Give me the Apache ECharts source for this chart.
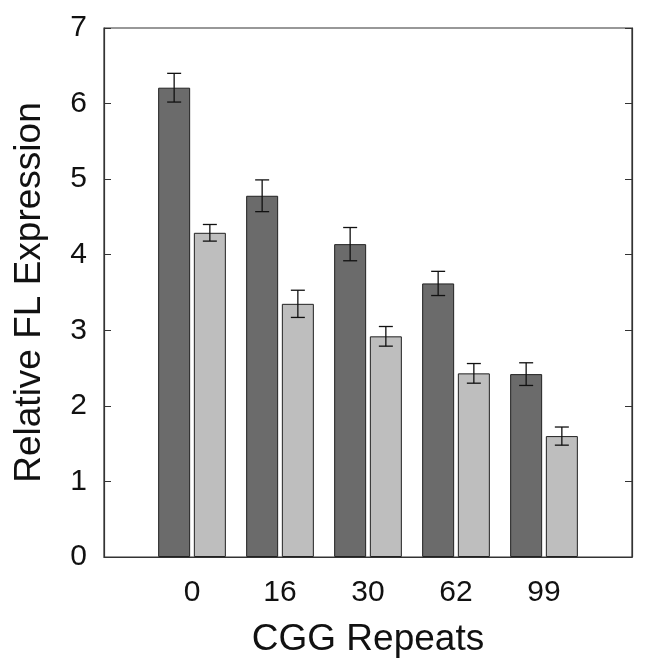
<!DOCTYPE html>
<html><head><meta charset="utf-8">
<script src="https://cdn.jsdelivr.net/npm/echarts@6/dist/echarts.min.js"></script>
<style>html,body{margin:0;padding:0;background:#fff}#c{width:649px;height:672px}</style>
</head><body><div id="c"></div>
<script>
const categories = ['', '0', '16', '30', '62', '99', ''];
const darkValues = [null, 6.21, 4.78, 4.14, 3.62, 2.42, null];
const darkErr = [null, 0.19, 0.21, 0.22, 0.16, 0.15, null];
const lightValues = [null, 4.29, 3.35, 2.92, 2.43, 1.60, null];
const lightErr = [null, 0.11, 0.18, 0.13, 0.13, 0.12, null];
const yTicks = [0, 1, 2, 3, 4, 5, 6, 7];

const BAR_W = 32, GAP = 3.7;
function errData(vals, errs) {
  const out = [];
  vals.forEach((v, i) => { if (v != null) out.push([i, v - errs[i], v + errs[i]]); });
  return out;
}
function errSeries(vals, errs, offset) {
  return {
    type: 'custom', z: 10,
    data: errData(vals, errs),
    renderItem: function (params, api) {
      const lo = api.coord([api.value(0), api.value(1)]);
      const hi = api.coord([api.value(0), api.value(2)]);
      const x = lo[0] + offset, cw = 7;
      const st = { stroke: '#111', lineWidth: 1.3 };
      return { type: 'group', children: [
        { type: 'line', shape: { x1: x, y1: lo[1], x2: x, y2: hi[1] }, style: st },
        { type: 'line', shape: { x1: x - cw, y1: lo[1], x2: x + cw, y2: lo[1] }, style: st },
        { type: 'line', shape: { x1: x - cw, y1: hi[1], x2: x + cw, y2: hi[1] }, style: st }
      ]};
    }
  };
}
const chart = echarts.init(document.getElementById('c'));
const off = (BAR_W + GAP) / 2;
chart.setOption({
  animation: false,
  textStyle: { fontFamily: 'Liberation Sans, Arial, sans-serif' },
  grid: { left: 104, right: 17, top: 28, bottom: 115, show: true, borderColor: '#333', borderWidth: 1.2, backgroundColor: 'transparent' },
  xAxis: {
    type: 'category', data: categories, boundaryGap: false,
    axisLine: { lineStyle: { color: '#333', width: 1.2 } },
    axisTick: { show: false },
    axisLabel: { color: '#111', fontSize: 30, margin: 21, interval: 0 },
    name: 'CGG Repeats', nameLocation: 'middle', nameGap: 64,
    nameTextStyle: { color: '#111', fontSize: 37 }
  },
  yAxis: [{
    type: 'value', min: yTicks[0], max: yTicks[yTicks.length - 1], interval: 1,
    axisLine: { show: true, lineStyle: { color: '#333', width: 1.2 } },
    axisTick: { show: true, inside: true, length: 7, lineStyle: { color: '#333' } },
    splitLine: { show: false },
    axisLabel: { color: '#111', fontSize: 30, margin: 17 },
    name: 'Relative FL Expression', nameLocation: 'middle', nameGap: 56,
    nameTextStyle: { color: '#111', fontSize: 37 }
  }, {
    type: 'value', position: 'right', min: yTicks[0], max: yTicks[yTicks.length - 1], interval: 1,
    axisLine: { show: true, lineStyle: { color: '#333', width: 1.2 } },
    axisTick: { show: true, inside: true, length: 7, lineStyle: { color: '#333' } },
    splitLine: { show: false }, axisLabel: { show: false }
  }],
  series: [
    { type: 'bar', data: darkValues, barWidth: BAR_W, barGap: (GAP / BAR_W * 100).toFixed(1) + '%',
      itemStyle: { color: '#6b6b6b', borderColor: '#222', borderWidth: 1 } },
    { type: 'bar', data: lightValues, barWidth: BAR_W,
      itemStyle: { color: '#bebebe', borderColor: '#222', borderWidth: 1 } },
    errSeries(darkValues, darkErr, -off),
    errSeries(lightValues, lightErr, off)
  ]
});
</script></body></html>
